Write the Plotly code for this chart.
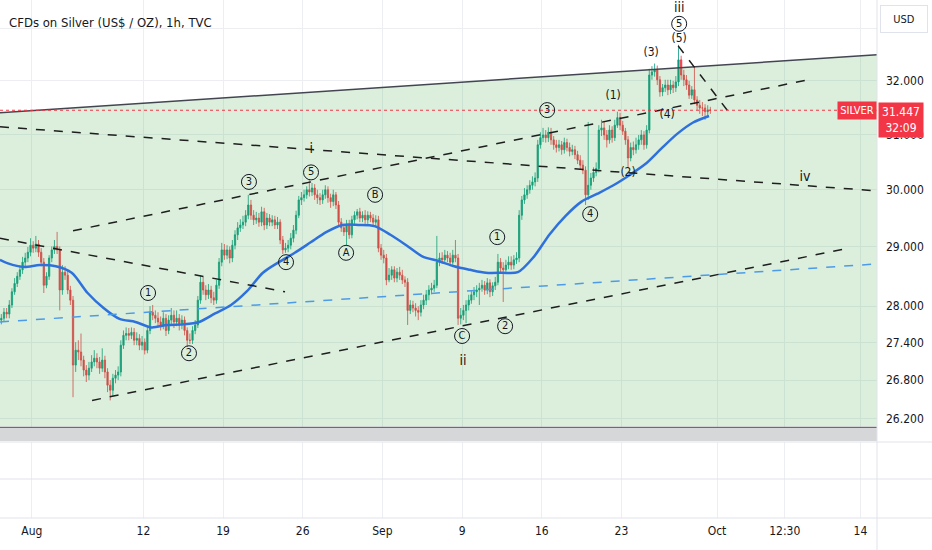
import numpy as np
import pandas as pd
import plotly.graph_objects as go

# ─────────────────────────────────────────────────────────
# DATA  (4h candles, Jul 30 -> Sep 30 2024)
# ─────────────────────────────────────────────────────────
days = pd.bdate_range("2024-07-30", "2024-09-30")
bar_times = [d + pd.Timedelta(hours=h) for d in days for h in range(2, 24, 4)][:268]

first_open = 27.77

close = [
    27.80, 27.90, 27.87, 28.02, 28.24, 28.38,
    28.50, 28.61, 28.74, 28.81, 28.91, 29.03,
    28.98, 29.05, 28.91, 28.74, 28.35, 28.50,
    28.81, 28.95, 29.01, 28.95, 28.27, 28.57,
    28.52, 28.27, 28.10, 27.04, 27.28, 27.25,
    27.12, 26.96, 26.88, 26.99, 27.09, 27.15,
    27.09, 26.99, 27.12, 26.93, 26.72, 26.64,
    26.83, 26.88, 26.93, 27.36, 27.52, 27.55,
    27.52, 27.57, 27.44, 27.47, 27.36, 27.41,
    27.28, 27.60, 27.90, 27.85, 27.80, 27.74,
    27.69, 27.80, 27.60, 27.77, 27.85, 27.74,
    27.80, 27.69, 27.77, 27.60, 27.44, 27.44,
    27.60, 27.69, 28.10, 28.40, 28.27, 28.19,
    28.27, 28.14, 28.10, 28.35, 28.74, 28.95,
    28.86, 28.95, 28.81, 29.03, 29.21, 29.33,
    29.38, 29.43, 29.55, 29.73, 29.55, 29.47,
    29.50, 29.43, 29.61, 29.38, 29.50, 29.43,
    29.47, 29.38, 29.43, 29.12, 28.95, 28.98,
    29.03, 29.15, 29.29, 29.55, 29.82, 29.86,
    29.91, 30.00, 29.96, 30.03, 29.91, 29.86,
    29.82, 29.91, 30.00, 29.86, 29.79, 29.91,
    29.73, 29.43, 29.33, 29.26, 29.38, 29.21,
    29.47, 29.55, 29.61, 29.50, 29.55, 29.47,
    29.55, 29.50, 29.43, 29.47, 28.98, 28.86,
    28.81, 28.44, 28.52, 28.61, 28.47, 28.57,
    28.52, 28.44, 28.40, 27.93, 28.02, 27.97,
    27.93, 27.90, 28.02, 28.10, 28.19, 28.27,
    28.30, 28.35, 28.74, 28.81, 28.78, 28.86,
    28.81, 28.74, 28.86, 28.81, 27.80, 27.85,
    27.93, 28.02, 28.10, 28.19, 28.24, 28.27,
    28.30, 28.35, 28.27, 28.39, 28.24, 28.34,
    28.40, 28.74, 28.64, 28.61, 28.69, 28.74,
    28.69, 28.78, 28.81, 29.55, 29.82, 29.91,
    30.00, 30.08, 30.14, 30.21, 30.81, 30.94,
    30.99, 30.94, 31.04, 30.90, 30.81, 30.76,
    30.81, 30.72, 30.85, 30.76, 30.69, 30.72,
    30.63, 30.53, 30.44, 30.35, 29.91, 30.08,
    30.21, 30.31, 30.38, 31.08, 31.12, 30.99,
    30.90, 31.08, 30.94, 31.17, 31.31, 31.17,
    31.06, 30.90, 30.57, 30.76, 30.72, 30.81,
    30.90, 30.99, 30.81, 31.08, 32.11, 32.17,
    32.21, 32.02, 31.79, 31.87, 31.92, 31.83,
    31.92, 31.87, 31.98, 32.40, 32.11, 32.02,
    31.92, 31.73, 31.83, 31.64, 31.54, 31.49,
    31.49, 31.42, 31.45, 31.447,
]

high = [
    27.87, 27.97, 27.97, 28.10, 28.30, 28.47,
    28.57, 28.69, 28.83, 28.90, 29.00, 29.15,
    29.10, 29.19, 29.12, 28.98, 28.81, 28.57,
    28.86, 29.01, 29.12, 29.26, 29.01, 28.69,
    28.67, 28.61, 28.34, 28.17, 27.41, 27.44,
    27.55, 27.19, 27.04, 27.09, 27.20, 27.28,
    27.23, 27.17, 27.31, 27.19, 26.99, 26.80,
    26.90, 26.96, 27.02, 27.44, 27.60, 27.65,
    27.64, 27.65, 27.64, 27.57, 27.54, 27.51,
    27.47, 27.67, 28.00, 28.02, 27.93, 27.90,
    27.83, 27.90, 27.87, 27.85, 27.97, 27.93,
    27.93, 27.87, 27.85, 27.83, 27.65, 27.55,
    27.67, 27.77, 28.17, 28.52, 28.49, 28.35,
    28.37, 28.34, 28.24, 28.44, 28.81, 29.07,
    29.05, 29.03, 29.01, 29.12, 29.29, 29.43,
    29.48, 29.54, 29.64, 29.91, 29.82, 29.64,
    29.61, 29.59, 29.70, 29.68, 29.59, 29.57,
    29.55, 29.54, 29.52, 29.48, 29.19, 29.07,
    29.12, 29.24, 29.38, 29.63, 29.89, 29.96,
    30.00, 30.06, 30.17, 30.12, 30.10, 30.00,
    29.94, 30.00, 30.08, 30.06, 29.93, 30.00,
    29.96, 29.80, 29.50, 29.40, 29.47, 29.47,
    29.54, 29.62, 29.66, 29.68, 29.62, 29.64,
    29.62, 29.61, 29.57, 29.55, 29.54, 29.05,
    28.95, 28.88, 28.64, 28.67, 28.67, 28.64,
    28.66, 28.61, 28.50, 28.47, 28.10, 28.09,
    28.05, 28.00, 28.10, 28.19, 28.27, 28.35,
    28.39, 28.44, 29.19, 28.90, 28.91, 28.95,
    28.93, 28.90, 28.95, 29.12, 28.88, 27.97,
    28.02, 28.10, 28.19, 28.27, 28.32, 28.35,
    28.39, 28.44, 28.42, 28.47, 28.45, 28.40,
    28.49, 28.88, 28.81, 28.74, 28.78, 28.84,
    28.84, 28.86, 28.91, 29.64, 29.89, 30.03,
    30.08, 30.17, 30.24, 30.31, 30.90, 31.04,
    31.12, 31.08, 31.13, 31.12, 30.97, 30.90,
    30.90, 30.88, 30.94, 30.92, 30.85, 30.81,
    30.79, 30.70, 30.62, 30.53, 30.42, 31.23,
    30.30, 30.40, 30.49, 31.17, 31.27, 31.25,
    31.08, 31.17, 31.15, 31.27, 31.42, 31.40,
    31.25, 31.12, 30.97, 30.85, 30.87, 30.94,
    30.99, 31.08, 31.06, 31.17, 32.23, 32.28,
    32.33, 32.29, 32.09, 31.94, 32.02, 32.02,
    32.02, 32.00, 32.09, 32.69, 32.48, 32.21,
    32.11, 32.00, 31.90, 32.28, 31.71, 31.64,
    31.60, 31.56, 31.54, 31.51,
]

low = [
    27.70, 27.74, 27.80, 27.80, 27.97, 28.19,
    28.32, 28.44, 28.54, 28.67, 28.74, 28.84,
    28.90, 28.91, 28.83, 28.67, 28.22, 28.30,
    28.44, 28.74, 28.88, 28.88, 27.93, 28.19,
    28.44, 28.20, 28.02, 26.53, 26.93, 27.12,
    27.02, 26.86, 26.77, 26.80, 26.93, 27.02,
    26.99, 26.90, 26.93, 26.83, 26.61, 26.48,
    26.54, 26.75, 26.80, 26.86, 27.30, 27.44,
    27.44, 27.46, 27.36, 27.36, 27.28, 27.28,
    27.21, 27.23, 27.54, 27.77, 27.72, 27.65,
    27.60, 27.62, 27.51, 27.54, 27.70, 27.64,
    27.67, 27.60, 27.62, 27.52, 27.33, 27.38,
    27.38, 27.54, 27.64, 28.04, 28.19, 28.10,
    28.12, 28.05, 28.02, 28.04, 28.29, 28.67,
    28.78, 28.79, 28.72, 28.74, 28.96, 29.12,
    29.26, 29.31, 29.36, 29.48, 29.47, 29.38,
    29.40, 29.35, 29.36, 29.29, 29.31, 29.36,
    29.36, 29.31, 29.31, 29.05, 28.88, 28.90,
    28.91, 28.96, 29.08, 29.22, 29.50, 29.73,
    29.79, 29.84, 29.88, 29.89, 29.82, 29.75,
    29.73, 29.75, 29.84, 29.77, 29.68, 29.71,
    29.66, 29.35, 29.26, 29.19, 29.03, 29.14,
    29.15, 29.40, 29.48, 29.43, 29.43, 29.40,
    29.40, 29.43, 29.36, 29.36, 28.91, 28.78,
    28.72, 28.35, 28.40, 28.44, 28.40, 28.40,
    28.44, 28.37, 28.32, 27.69, 27.87, 27.90,
    27.83, 27.77, 27.83, 27.95, 28.02, 28.10,
    28.20, 28.24, 28.30, 28.67, 28.71, 28.74,
    28.74, 28.67, 28.67, 28.74, 27.69, 27.70,
    27.77, 27.72, 27.93, 28.04, 28.10, 28.15,
    28.02, 28.24, 28.19, 28.20, 28.15, 28.17,
    28.27, 28.35, 28.57, 28.07, 28.54, 28.62,
    28.61, 28.62, 28.71, 28.74, 29.47, 29.75,
    29.84, 29.93, 30.00, 30.06, 30.14, 30.74,
    30.86, 30.85, 30.86, 30.81, 30.72, 30.67,
    30.69, 30.63, 30.65, 30.69, 30.60, 30.62,
    30.55, 30.46, 30.37, 30.28, 29.73, 29.82,
    30.00, 30.14, 30.24, 30.31, 30.97, 30.90,
    30.76, 30.83, 30.85, 30.88, 31.12, 31.08,
    30.99, 30.81, 30.40, 30.51, 30.62, 30.65,
    30.72, 30.81, 30.72, 30.74, 31.02, 32.02,
    32.08, 31.92, 31.70, 31.71, 31.79, 31.73,
    31.75, 31.77, 31.79, 31.90, 32.02, 31.90,
    31.83, 31.66, 31.66, 31.56, 31.45, 31.38,
    31.34, 31.27, 31.34, 31.38,
]

open_ = [first_open] + close[:-1]

# moving average, one reading per trading day at midday
ma_times = [pd.Timestamp("2024-07-30 00:00")] + [d + pd.Timedelta(hours=12) for d in days]
ma_values = [
    28.78, 28.72, 28.66, 28.69, 28.67, 28.56, 28.22, 27.97, 27.79, 27.74,
    27.65, 27.69, 27.70, 27.74, 27.88, 28.02, 28.25, 28.56, 28.74, 28.90,
    29.08, 29.26, 29.38, 29.38, 29.36, 29.21, 29.03, 28.84, 28.76, 28.67,
    28.61, 28.56, 28.56, 28.57, 28.83, 29.22, 29.54, 29.79, 29.93, 30.08,
    30.26, 30.46, 30.74, 31.01, 31.22, 31.34,
]

last_price = 31.447
box_floor = 26.06

# trend lines: (start time, start price, end time, end price)
channel_top = ("2024-07-30 00:00", 31.40, "2024-10-15 01:00", 32.50)
dashed_lines = [
    ("2024-08-05 14:00", 29.28, "2024-10-08 17:20", 32.02),
    ("2024-07-30 00:00", 31.14, "2024-10-15 01:00", 29.98),
    ("2024-07-30 00:00", 29.15, "2024-08-22 21:20", 28.24),
    ("2024-08-06 18:40", 26.48, "2024-10-10 22:00", 28.96),
    ("2024-09-26 13:30", 32.67, "2024-10-01 18:20", 31.40),
]
blue_line = ("2024-07-30 00:00", 27.74, "2024-10-15 01:00", 28.71)

# Elliott wave labels
circled_text = ["1", "2", "3", "4", "5", "A", "B", "C", "1", "2", "3", "4", "5"]
circled_time = ["2024-08-12 07:00", "2024-08-14 20:40", "2024-08-20 15:00",
                "2024-08-22 22:50", "2024-08-26 12:30", "2024-08-28 17:20",
                "2024-08-30 13:00", "2024-09-09 00:00", "2024-09-11 05:00",
                "2024-09-11 16:50", "2024-09-16 08:10", "2024-09-19 01:00",
                "2024-09-26 15:00"]
circled_price = [28.22, 27.23, 30.14, 28.74, 30.31, 28.90, 29.91, 27.51,
                 29.17, 27.67, 31.45, 29.57, 33.10]

paren_text = ["(1)", "(2)", "(3)", "(4)", "(5)"]
paren_time = ["2024-09-20 11:30", "2024-09-23 10:00", "2024-09-24 20:50",
              "2024-09-25 20:50", "2024-09-26 15:00"]
paren_price = [31.71, 30.30, 32.54, 31.36, 32.81]

roman_text = ["i", "ii", "iii", "iv"]
roman_time = ["2024-08-26 13:00", "2024-09-09 01:30", "2024-09-26 15:00",
              "2024-10-08 12:40"]
roman_price = [30.72, 27.09, 33.40, 30.22]

price_ticks = [26.2, 26.8, 27.4, 28, 29, 30, 31, 32, 33]
price_tick_text = ["26.200", "26.800", "27.400", "28.000", "29.000",
                   "30.000", "31.000", "32.000", ""]

date_ticks = ["2024-08-01", "2024-08-12", "2024-08-19", "2024-08-26",
              "2024-09-02", "2024-09-09", "2024-09-16", "2024-09-23",
              "2024-10-01", "2024-10-07 06:00", "2024-10-14"]
date_tick_text = ["Aug", "12", "19", "26", "Sep", "9", "16", "23", "Oct",
                  "12:30", "14"]

x_start, x_end = "2024-07-30 00:00", "2024-10-15 01:00"
price_min, price_max = 25.85, 33.57

# ─────────────────────────────────────────────────────────
# FIGURE
# ─────────────────────────────────────────────────────────
FONT = "DejaVu Sans Condensed, Liberation Sans Narrow, Roboto, sans-serif"
INK = "#131722"

fig = go.Figure()

fig.add_trace(go.Candlestick(
    x=bar_times, open=open_, high=high, low=low, close=close,
    increasing=dict(line=dict(color="#089981", width=0.8), fillcolor="#089981"),
    decreasing=dict(line=dict(color="#f23645", width=0.8), fillcolor="#f23645"),
    hoverinfo="skip",
))

fig.add_trace(go.Scatter(
    x=ma_times, y=ma_values, mode="lines",
    line=dict(color="#2962ff", width=2.5, shape="spline", smoothing=0.8),
))

# green zone under the upper trend line, grey strip below it
fig.add_trace(go.Scatter(
    x=[x_start, x_end, x_end, x_start],
    y=[channel_top[1], channel_top[3], box_floor, box_floor],
    fill="toself", fillcolor="rgba(76,175,80,0.2)", mode="none",
))
fig.add_trace(go.Scatter(
    x=[x_start, x_end, x_end, x_start],
    y=[box_floor, box_floor, price_min, price_min],
    fill="toself", fillcolor="#d5d7d9", mode="none",
))
fig.add_trace(go.Scatter(
    x=[x_start, x_end], y=[box_floor, box_floor], mode="lines",
    line=dict(color="#9c27b0", width=1),
))

fig.add_trace(go.Scatter(
    x=[channel_top[0], channel_top[2]], y=[channel_top[1], channel_top[3]],
    mode="lines", line=dict(color="#434651", width=1.5),
))
fig.add_trace(go.Scatter(
    x=[blue_line[0], blue_line[2]], y=[blue_line[1], blue_line[3]],
    mode="lines", line=dict(color="#4c9be8", width=1.5, dash="dash"),
))
for t0, p0, t1, p1 in dashed_lines:
    fig.add_trace(go.Scatter(
        x=[t0, t1], y=[p0, p1], mode="lines",
        line=dict(color="#1e1e1e", width=1.5, dash="dash"),
    ))

# last price line
fig.add_trace(go.Scatter(
    x=[x_start, x_end], y=[last_price, last_price], mode="lines",
    line=dict(color="#f23645", width=1, dash="dot"),
))

# wave labels
fig.add_trace(go.Scatter(
    x=circled_time, y=circled_price, mode="markers+text",
    text=circled_text, textposition="middle center", cliponaxis=False,
    textfont=dict(family=FONT, size=11, color=INK),
    marker=dict(symbol="circle", size=15, color="rgba(0,0,0,0)",
                line=dict(color=INK, width=1)),
))
fig.add_trace(go.Scatter(
    x=paren_time, y=paren_price, mode="text", text=paren_text,
    textposition="middle center", cliponaxis=False,
    textfont=dict(family=FONT, size=12, color=INK),
))
fig.add_trace(go.Scatter(
    x=roman_time, y=roman_price, mode="text", text=roman_text,
    textposition="middle center", cliponaxis=False,
    textfont=dict(family=FONT, size=14, color=INK),
))

# empty lower pane so the grid runs down to the time scale
fig.add_trace(go.Scatter(x=[x_start], y=[1], yaxis="y2", mode="none"))

fig.update_layout(
    width=932, height=550,
    margin=dict(l=0, r=55, t=0, b=32),
    paper_bgcolor="white", plot_bgcolor="white",
    showlegend=False, hovermode=False,
    font=dict(family=FONT, size=12, color=INK),
    xaxis=dict(
        type="date", range=[x_start, x_end], anchor="y2", automargin=False,
        rangebreaks=[dict(bounds=["sat", "mon"])],
        rangeslider=dict(visible=False),
        tickvals=date_ticks, ticktext=date_tick_text,
        showgrid=True, gridcolor="#eceef2", gridwidth=1,
        showline=False, zeroline=False, ticks="", ticklabelstandoff=4,
        tickfont=dict(size=12, color=INK),
    ),
    yaxis=dict(
        type="log", domain=[0.1486, 1], side="right", automargin=False,
        range=[np.log10(price_min), np.log10(price_max)],
        tickvals=price_ticks, ticktext=price_tick_text,
        showgrid=True, gridcolor="#eceef2", gridwidth=1,
        showline=False, zeroline=False, ticks="", ticklabelstandoff=8,
        tickfont=dict(size=12, color=INK),
    ),
    yaxis2=dict(
        domain=[0, 0.1467], range=[0, 2], showgrid=False, automargin=False,
        showticklabels=False, zeroline=False, showline=False,
    ),
)

# pane separators and price-scale border
for yp in [0, 0.0753, 0.1467]:
    fig.add_shape(type="line", xref="paper", yref="paper",
                  x0=0, x1=1.07, y0=yp, y1=yp,
                  line=dict(color="#e0e3eb", width=1))
fig.add_shape(type="line", xref="paper", yref="paper",
              x0=1, x1=1, y0=-0.07, y1=1,
              line=dict(color="#e0e3eb", width=1))

fig.add_annotation(
    text="CFDs on Silver (US$ / OZ), 1h, TVC", xref="paper", yref="paper",
    x=0.008, y=0.9575, xanchor="left", yanchor="middle", showarrow=False,
    font=dict(family=FONT, size=13, color=INK),
)
fig.add_annotation(
    text="USD", xref="paper", yref="paper", x=1.0308, y=0.963,
    xanchor="center", yanchor="middle", showarrow=False,
    bgcolor="white", bordercolor="#e0e3eb", borderwidth=1,
    width=44, height=24, font=dict(size=11, color=INK),
)
fig.add_annotation(
    text="SILVER", xref="paper", yref="y", x=1, y=np.log10(last_price),
    xanchor="right", yanchor="middle", showarrow=False,
    bgcolor="#f23645", width=36, height=15,
    font=dict(size=11, color="white"),
)
fig.add_annotation(
    text="31.447<br>32:09", xref="paper", yref="y", x=1.001,
    y=np.log10(last_price), yshift=8, xanchor="left", yanchor="top",
    showarrow=False, bgcolor="#f23645", width=42, height=32, align="center",
    font=dict(size=12, color="white"),
)

# page body margin would push the 932x550 figure out of the window
fig.write_html("out.html", config={"displayModeBar": False},
               post_script="document.body.style.margin='0';")
